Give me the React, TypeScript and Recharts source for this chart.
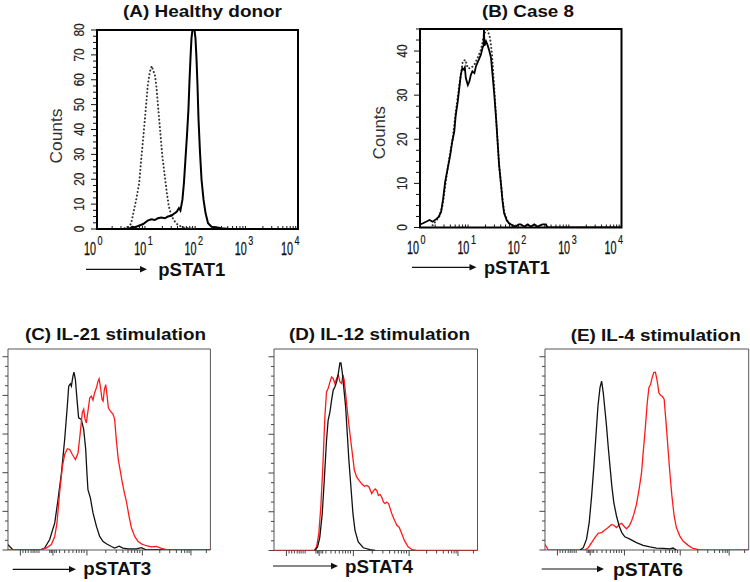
import { LineChart, Line, XAxis, YAxis, ReferenceArea } from "recharts";

type Pt = [number, number];

// (A) healthy donor — x in decades of pSTAT1 fluorescence, y = counts
const healthyIsotype: Pt[] = [
  [0.55, 0.3], [0.64, 0.9], [0.68, 2.3], [0.73, 7.0], [0.78, 11.8], [0.84, 18.5], [0.88, 28.0],
  [0.93, 38.8], [0.97, 48.2], [1.01, 57.7], [1.05, 63.1], [1.09, 65.5], [1.13, 63.1], [1.15, 62.4],
  [1.18, 57.7], [1.22, 48.2], [1.26, 38.8], [1.3, 29.3], [1.35, 21.2], [1.39, 14.5], [1.43, 9.1],
  [1.48, 5.3], [1.55, 3.0], [1.61, 1.6], [1.71, 0.7], [1.84, 0.3], [1.98, 0],
];
const healthyIfn: Pt[] = [
  [0, 0], [0.58, 0], [0.66, 0.3], [0.7, 0.9], [0.75, 0.7], [0.82, 1.2], [0.92, 2.0], [1.01, 3.4],
  [1.08, 3.9], [1.15, 3.6], [1.21, 4.3], [1.28, 4.6], [1.35, 4.3], [1.41, 5.0], [1.48, 5.3],
  [1.55, 6.4], [1.59, 7.0], [1.63, 8.4], [1.66, 7.4], [1.7, 11.8], [1.73, 18.5], [1.76, 28.0],
  [1.79, 37.4], [1.82, 48.2], [1.84, 59.1], [1.86, 68.5], [1.88, 76.6], [1.9, 80], [1.94, 80],
  [1.96, 76.6], [1.98, 68.5], [2.0, 57.7], [2.02, 44.2], [2.05, 30.7], [2.08, 19.9], [2.12, 11.8],
  [2.16, 6.4], [2.21, 2.3], [2.28, 0.9], [2.37, 0.7], [2.47, 0.3], [2.64, 0], [4, 0],
];

// (B) case 8
const case8Isotype: Pt[] = [
  [0.25, 0.5], [0.38, 2.4], [0.45, 5.1], [0.52, 11.1], [0.58, 15.7], [0.65, 20.2], [0.71, 26.3],
  [0.78, 32.3], [0.85, 37.7], [0.9, 38.0], [0.95, 36.1], [1.01, 36.1], [1.08, 36.9], [1.14, 38.4],
  [1.21, 40.3], [1.28, 44.1], [1.34, 44.8], [1.39, 43.0], [1.43, 39.2], [1.47, 32.3], [1.52, 23.3],
  [1.57, 14.2], [1.63, 7.3], [1.67, 3.6], [1.74, 1.3], [1.84, 0.3], [1.97, 0],
];
const case8Ifn: Pt[] = [
  [0, 0.7], [0.05, 0.9], [0.12, 1.3], [0.19, 1.7], [0.25, 1.3], [0.32, 1.9], [0.37, 2.4], [0.42, 3.6],
  [0.46, 6.6], [0.5, 10.4], [0.55, 13.4], [0.6, 16.4], [0.64, 19.5], [0.68, 21.7], [0.71, 25.5],
  [0.75, 28.6], [0.78, 31.6], [0.81, 34.6], [0.84, 36.1], [0.87, 35.8], [0.89, 36.3], [0.91, 33.9],
  [0.95, 32.3], [0.98, 33.1], [1.01, 34.6], [1.04, 35.4], [1.08, 35.0], [1.11, 36.5], [1.14, 37.3],
  [1.18, 38.4], [1.21, 39.2], [1.24, 40.7], [1.26, 41.2], [1.27, 45], [1.28, 41.2], [1.31, 42.2],
  [1.34, 41.4], [1.38, 39.9], [1.41, 38.4], [1.44, 34.6], [1.47, 30.8], [1.51, 24.8], [1.54, 19.5],
  [1.57, 14.2], [1.61, 9.6], [1.64, 5.8], [1.67, 3.2], [1.72, 1.7], [1.77, 0.9], [1.84, 0.5],
  [1.9, 0.2], [1.96, 0.7], [2.0, 0.7], [2.07, 0.2], [2.14, 0.7], [2.2, 0.2], [2.27, 0.7], [2.33, 0.2],
  [2.43, 0.7], [2.5, 0.7], [2.53, 0], [4, 0],
];

// (C)-(E): x = channel (0-100 across the plot), y = normalised to mode, in axis major units
const il21Unstim: Pt[] = [
  [0, 0.14], [2.5, 0], [15.7, 0], [18.1, 0.05], [20.6, 0.27], [23.1, 0.7], [24.7, 1.3], [26.4, 1.99],
  [28.0, 2.86], [29.3, 3.72], [30.0, 4.24], [30.8, 4.3], [31.3, 4.24], [32.1, 4.5], [32.6, 4.6],
  [33.3, 4.41], [34.1, 3.89], [34.9, 3.42], [36.2, 3.38], [37.4, 3.12], [38.4, 2.6], [39.0, 1.99],
  [39.5, 1.56], [40.7, 1.35], [42.0, 0.96], [43.7, 0.61], [45.3, 0.35], [47.0, 0.22], [48.6, 0.16],
  [51.1, 0.09], [52.7, 0.05], [54.9, 0.1], [56.8, 0.05], [59.3, 0.03], [63.4, 0.03], [65.9, 0.06],
  [68.4, 0], [100, 0],
];
const il21Stim: Pt[] = [
  [0, 0], [15.7, 0], [18.9, 0.05], [21.4, 0.14], [23.1, 0.35], [24.2, 0.7], [25.5, 1.48], [26.9, 2.17],
  [28.0, 2.47], [29.3, 2.62], [30.5, 2.6], [31.8, 2.47], [33.3, 2.34], [34.6, 2.51], [35.7, 3.03],
  [36.7, 3.55], [37.4, 3.64], [38.1, 3.38], [38.7, 3.29], [39.5, 3.59], [40.4, 3.94], [41.2, 3.98],
  [42.0, 3.88], [42.8, 4.07], [43.7, 4.2], [44.5, 4.37], [45.0, 4.43], [45.6, 4.24], [46.5, 3.89],
  [47.0, 3.85], [47.6, 4.15], [48.3, 4.28], [48.9, 4.02], [49.6, 3.68], [50.6, 3.59], [51.9, 3.51],
  [52.7, 3.38], [53.5, 2.86], [54.5, 2.34], [55.5, 2.04], [56.5, 1.74], [57.5, 1.48], [58.5, 1.26],
  [59.8, 0.87], [61.0, 0.57], [62.6, 0.35], [64.3, 0.22], [65.9, 0.16], [68.4, 0.11], [70.8, 0.08],
  [73.3, 0.09], [75.8, 0.04], [78.3, 0.01], [81.5, 0], [100, 0],
];

const il12Unstim: Pt[] = [
  [20.1, 0], [21.4, 0.09], [22.5, 0.34], [23.7, 0.95], [24.7, 1.81], [25.8, 2.84], [26.6, 3.36],
  [27.5, 3.58], [28.3, 3.88], [29.1, 4.14], [29.9, 4.22], [30.8, 4.35], [31.6, 4.57], [32.4, 4.84],
  [32.9, 4.84], [33.6, 4.57], [34.4, 4.14], [35.2, 3.71], [36.0, 3.02], [36.8, 2.33], [37.8, 1.64],
  [38.8, 0.95], [39.8, 0.52], [41.4, 0.22], [43.9, 0.07], [47.2, 0.02], [49.7, 0],
];
const il12Stim: Pt[] = [
  [0, 0], [19.7, 0], [20.9, 0.09], [22.0, 0.43], [23.0, 1.12], [24.0, 2.16], [25.0, 3.45], [25.8, 4.09],
  [26.6, 4.18], [27.5, 4.35], [28.3, 4.48], [29.1, 4.44], [29.9, 4.31], [30.8, 4.44], [31.6, 4.53],
  [32.4, 4.35], [33.2, 4.31], [33.9, 4.53], [34.5, 4.4], [35.2, 4.05], [36.2, 3.53], [37.3, 3.02],
  [38.5, 2.5], [39.5, 2.07], [40.6, 1.9], [41.8, 1.81], [43.1, 1.72], [44.4, 1.66], [45.6, 1.68],
  [46.7, 1.64], [48.0, 1.47], [48.8, 1.53], [49.7, 1.59], [50.5, 1.55], [51.3, 1.42], [52.1, 1.45],
  [52.9, 1.38], [53.8, 1.25], [54.6, 1.21], [55.4, 1.25], [56.3, 1.21], [57.1, 1.08], [57.9, 0.95],
  [59.2, 0.78], [60.4, 0.65], [61.5, 0.6], [62.8, 0.43], [64.1, 0.26], [65.8, 0.1], [67.8, 0.02],
  [70.2, 0], [100, 0],
];

const il4Unstim: Pt[] = [
  [17.2, 0], [18.8, 0.06], [20.4, 0.28], [21.7, 0.71], [22.9, 1.4], [24.0, 2.17], [25.0, 2.95],
  [26.0, 3.72], [27.0, 4.2], [27.8, 4.37], [28.6, 4.07], [29.4, 3.64], [30.2, 3.21], [31.0, 2.69],
  [31.9, 2.17], [32.8, 1.66], [33.8, 1.22], [35.1, 0.88], [36.4, 0.62], [37.7, 0.45], [39.2, 0.34],
  [41.7, 0.28], [44.9, 0.19], [48.2, 0.12], [51.5, 0.08], [54.7, 0.05], [58.0, 0.04], [61.3, 0.03],
  [62.9, 0.05], [64.5, 0],
];
const il4Stim: Pt[] = [
  [0, 0.15], [1.6, 0], [19.6, 0], [21.2, 0.06], [22.9, 0.19], [24.5, 0.32], [26.1, 0.43], [27.8, 0.45],
  [29.4, 0.52], [31.0, 0.58], [32.7, 0.66], [33.8, 0.64], [35.1, 0.58], [36.4, 0.66], [37.6, 0.69],
  [38.7, 0.62], [40.0, 0.55], [41.3, 0.62], [42.5, 0.75], [43.6, 0.92], [44.9, 1.18], [46.2, 1.57],
  [47.4, 2.0], [48.2, 2.52], [49.2, 3.12], [50.2, 3.81], [51.0, 4.2], [51.8, 4.28], [52.6, 4.46],
  [53.4, 4.59], [54.2, 4.6], [55.1, 4.37], [55.9, 4.07], [56.7, 4.0], [57.7, 3.97], [58.5, 3.9],
  [59.3, 3.38], [60.3, 2.69], [61.3, 2.0], [62.3, 1.4], [63.4, 0.88], [64.5, 0.58], [66.2, 0.36],
  [67.8, 0.23], [70.3, 0.12], [72.7, 0.04], [76.0, 0], [100, 0],
];

// axes
const decadeExponents = [0, 1, 2, 3, 4];
const flowMajorTicks = [6.1, 22.2, 39.0, 66.4, 90.4];
const flowMinorTicks = [
  7.4, 8.7, 10.0, 11.4, 12.4, 13.3, 14.3, 15.3, 20.6, 21.3, 21.7, 23.1, 23.9, 25.5, 28.0, 30.1, 32.1,
  33.8, 35.1, 36.4, 37.6, 48.3, 53.5, 56.8, 59.3, 61.1, 62.6, 63.9, 65.1, 75.0, 79.9, 83.2, 85.7,
  87.3, 88.5, 89.5, 98.0,
];

const titles = ["(A) Healthy donor", "(B) Case 8", "(C) IL-21 stimulation", "(D) IL-12 stimulation", "(E) IL-4 stimulation"];
const markers = ["pSTAT1", "pSTAT1", "pSTAT3", "pSTAT4", "pSTAT6"];

const FONT = "'Liberation Sans', Arial, Helvetica, sans-serif";
const RED = "#ff1a1a";
const PAD = { l: 32, r: 6, t: 12, b: 36 };

type Box = { left: number; top: number; right: number; bottom: number };
type Series = { data: Pt[]; color: string; width: number; dash?: string };

const rows = (pts: Pt[]) => pts.map(([x, y]) => ({ x, y }));

const decadeMinors = decadeExponents.slice(0, 4).flatMap((d) =>
  [2, 3, 4, 5, 6, 7, 8, 9].map((k) => d + Math.log10(k))
);
const quarterTicks = (max: number) => Array.from({ length: max * 4 + 1 }, (_, i) => i / 4);
const countTicks = (max: number) => Array.from({ length: Math.floor(max / 2.5) + 1 }, (_, i) => i * 2.5);

function Panel({
  box, xDomain, yDomain, xTicks, yTicks, xTick, yTick, frame, frameWidth, series,
}: {
  box: Box; xDomain: [number, number]; yDomain: [number, number]; xTicks: number[]; yTicks: number[];
  xTick: (p: any) => any; yTick: (p: any) => any; frame: string; frameWidth: number; series: Series[];
}) {
  const w = box.right - box.left + PAD.l + PAD.r;
  const h = box.bottom - box.top + PAD.t + PAD.b;
  return (
    <div style={{ position: "absolute", left: box.left - PAD.l, top: box.top - PAD.t }}>
      <LineChart width={w} height={h} margin={{ top: PAD.t, right: PAD.r, bottom: PAD.b - 20, left: PAD.l - 20 }}>
        <XAxis type="number" dataKey="x" domain={xDomain} ticks={xTicks} interval={0} height={20}
          axisLine={false} tickLine={false} tickSize={0} tickMargin={0} tick={xTick} allowDataOverflow />
        <YAxis type="number" dataKey="y" domain={yDomain} ticks={yTicks} interval={0} width={20}
          axisLine={false} tickLine={false} tickSize={0} tickMargin={0} tick={yTick} allowDataOverflow />
        <ReferenceArea x1={xDomain[0]} x2={xDomain[1]} y1={yDomain[0]} y2={yDomain[1]}
          fill="none" fillOpacity={0} stroke={frame} strokeWidth={frameWidth} />
        {series.map((s, i) => (
          <Line key={i} data={rows(s.data)} dataKey="y" type="linear" stroke={s.color} strokeWidth={s.width}
            strokeDasharray={s.dash} strokeLinecap={s.dash ? "round" : "butt"} dot={false} activeDot={false}
            isAnimationActive={false} />
        ))}
      </LineChart>
    </div>
  );
}

// log decade axis (A, B)
const decadeTick = (plotBottom: number) => (p: any) => {
  const x = p.x;
  const v = p.payload.value;
  if (decadeExponents.includes(v)) {
    const shift = v === 4 ? -4 : 0;
    return (
      <g>
        <text x={x - 1 + shift} y={plotBottom + 26} textAnchor="end" fontSize={18} fontFamily={FONT}
          fill="#111" stroke="#111" strokeWidth={0.3} textLength={12} lengthAdjust="spacingAndGlyphs">10</text>
        <text x={x + 0.5 + shift} y={plotBottom + 16} textAnchor="start" fontSize={12.5} fontFamily={FONT}
          fill="#111" stroke="#111" strokeWidth={0.2} textLength={5} lengthAdjust="spacingAndGlyphs">{v}</text>
      </g>
    );
  }
  return <line x1={x} x2={x} y1={plotBottom} y2={plotBottom - 3} stroke="#111" strokeWidth={1} />;
};

const countTick = (plotLeft: number) => (p: any) => {
  const y = p.y;
  const v = p.payload.value;
  const major = v % 10 === 0;
  const lx = plotLeft - 13;
  return (
    <g>
      <line x1={plotLeft} x2={plotLeft - (major ? 6 : 4)} y1={y} y2={y} stroke="#111" strokeWidth={1} />
      {major && (
        <text x={lx} y={y} transform={`rotate(-90 ${lx} ${y})`} textAnchor="middle" fontSize={15}
          fontFamily={FONT} fill="#222" stroke="#222" strokeWidth={0.2}
          textLength={String(v).length * 6.6} lengthAdjust="spacingAndGlyphs">
          {v}
        </text>
      )}
    </g>
  );
};

// biexponential axis (C-E)
const flowXTick = (plotBottom: number) => (p: any) => {
  const major = flowMajorTicks.includes(p.payload.value);
  return <line x1={p.x} x2={p.x} y1={plotBottom} y2={plotBottom + (major ? 5.5 : 3)} stroke="#444" strokeWidth={1} />;
};
const flowYTick = (plotLeft: number) => (p: any) => {
  const major = Number.isInteger(p.payload.value);
  return <line x1={plotLeft} x2={plotLeft - (major ? 5.5 : 3)} y1={p.y} y2={p.y} stroke="#444" strokeWidth={1} />;
};

const boxes: Box[] = [
  { left: 97, top: 29.5, right: 298, bottom: 228.5 },
  { left: 419.5, top: 29, right: 621, bottom: 227.5 },
  { left: 8.3, top: 349.3, right: 210.7, bottom: 550.3 },
  { left: 273.5, top: 348.5, right: 477, bottom: 550 },
  { left: 545.3, top: 349, right: 749, bottom: 550 },
];

const titlePos = [
  { x: 202.5, y: 17, len: 159 },
  { x: 528, y: 16.5, len: 92 },
  { x: 115.5, y: 340, len: 181 },
  { x: 379.5, y: 340, len: 181 },
  { x: 655.7, y: 340.5, len: 170 },
];
const markerPos = [
  { x: 158.3, y: 276, len: 67, a1: 86, a2: 147, ay: 269.3 },
  { x: 484, y: 274, len: 66, a1: 412, a2: 476.5, ay: 267.3 },
  { x: 83.3, y: 575, len: 68, a1: 12.7, a2: 76, ay: 569.3 },
  { x: 345, y: 572.5, len: 68, a1: 273, a2: 338, ay: 566 },
  { x: 613, y: 575.5, len: 70, a1: 541.7, a2: 604, ay: 569 },
];
const countsPos = [
  { x: 61.7, y: 136, len: 55 },
  { x: 385, y: 132.7, len: 53 },
];

export default function App() {
  const plotBottom = (b: Box) => PAD.t + (b.bottom - b.top);
  const flowSeries: Series[][] = [
    [{ data: il21Unstim, color: "#111", width: 1.3 }, { data: il21Stim, color: RED, width: 1.3 }],
    [{ data: il12Stim, color: RED, width: 1.3 }, { data: il12Unstim, color: "#111", width: 1.3 }],
    [{ data: il4Stim, color: RED, width: 1.3 }, { data: il4Unstim, color: "#111", width: 1.3 }],
  ];
  return (
    <div style={{ position: "absolute", left: 0, top: 0, width: 750, height: 582, background: "#fff", overflow: "hidden" }}>
      <Panel box={boxes[0]} xDomain={[0, 4]} yDomain={[0, 80]}
        xTicks={[...decadeExponents, ...decadeMinors]} yTicks={countTicks(80)}
        xTick={decadeTick(plotBottom(boxes[0]))} yTick={countTick(PAD.l)} frame="#000" frameWidth={2}
        series={[
          { data: healthyIsotype, color: "#333", width: 2, dash: "0.1 3.6" },
          { data: healthyIfn, color: "#000", width: 2 },
        ]} />
      <Panel box={boxes[1]} xDomain={[0, 4]} yDomain={[0, 45]}
        xTicks={[...decadeExponents, ...decadeMinors]} yTicks={countTicks(45)}
        xTick={decadeTick(plotBottom(boxes[1]))} yTick={countTick(PAD.l)} frame="#000" frameWidth={2}
        series={[
          { data: case8Isotype, color: "#333", width: 2, dash: "0.1 3.6" },
          { data: case8Ifn, color: "#000", width: 1.8 },
        ]} />
      {[2, 3, 4].map((i) => (
        <Panel key={i} box={boxes[i]} xDomain={[0, 100]} yDomain={[0, 5.2]}
          xTicks={[...flowMajorTicks, ...flowMinorTicks]} yTicks={quarterTicks(5)}
          xTick={flowXTick(plotBottom(boxes[i]))} yTick={flowYTick(PAD.l)} frame="#555" frameWidth={1}
          series={flowSeries[i - 2]} />
      ))}
      <svg width={750} height={582} style={{ position: "absolute", left: 0, top: 0, pointerEvents: "none" }}>
        {titles.map((t, i) => (
          <text key={t} x={titlePos[i].x} y={titlePos[i].y} textAnchor="middle" fontSize={17} fontWeight="bold"
            fontFamily={FONT} fill="#111" textLength={titlePos[i].len} lengthAdjust="spacingAndGlyphs">{t}</text>
        ))}
        {markers.map((m, i) => {
          const p = markerPos[i];
          return (
            <g key={i}>
              <line x1={p.a1} x2={p.a2 - 5} y1={p.ay} y2={p.ay} stroke="#111" strokeWidth={1.2} />
              <polygon points={`${p.a2},${p.ay} ${p.a2 - 7},${p.ay - 3.2} ${p.a2 - 7},${p.ay + 3.2}`} fill="#111" />
              <text x={p.x} y={p.y} fontSize={18} fontWeight="bold" fontFamily={FONT} fill="#111"
                textLength={p.len} lengthAdjust="spacingAndGlyphs">{m}</text>
            </g>
          );
        })}
        {countsPos.map((c, i) => (
          <text key={i} x={c.x} y={c.y} transform={`rotate(-90 ${c.x} ${c.y})`} textAnchor="middle" fontSize={17}
            fontFamily={FONT} fill="#333" textLength={c.len} lengthAdjust="spacingAndGlyphs">Counts</text>
        ))}
      </svg>
    </div>
  );
}
